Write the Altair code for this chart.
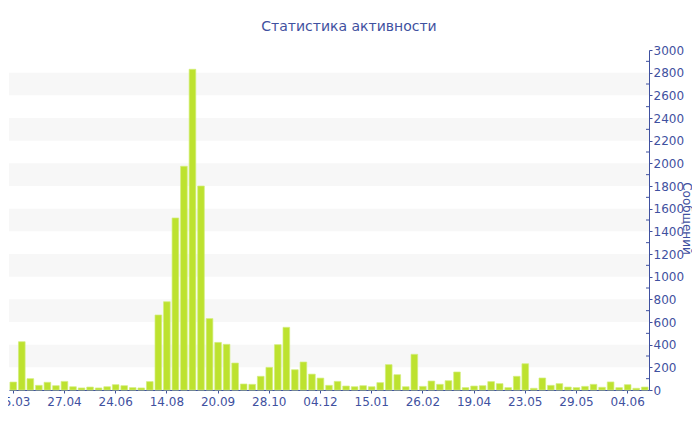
import altair as alt
import pandas as pd

# ---- data ----
tick_labels = ["15.03", "27.04", "24.06", "14.08", "20.09", "28.10", "04.12",
               "15.01", "26.02", "19.04", "23.05", "29.05", "04.06"]
messages = [70, 426, 100, 41, 68, 38, 76, 29, 18, 26, 18, 29, 47, 38, 21, 18, 74,
            662, 779, 1518, 1974, 2830, 1800, 630, 420, 403, 238, 53, 50, 121, 200,
            400, 553, 179, 247, 140, 105,
            41, 76, 35, 29, 38, 29, 65, 224, 135, 29, 315, 32, 79, 50, 82, 159, 21,
            35, 38,
            74, 56, 21, 121, 232, 15, 106, 41, 56, 26, 21, 32, 50, 24, 71, 21, 47,
            15, 26]
band_low = [200, 600, 1000, 1400, 1800, 2200, 2600]
band_high = [400, 800, 1200, 1600, 2000, 2400, 2800]
minor_ticks = [100, 300, 500, 700, 900, 1100, 1300, 1500, 1700, 1900, 2100,
               2300, 2500, 2700, 2900]
y_ticks = list(range(0, 3001, 200))

BLUE = "#3f51a0"
FONT = "DejaVu Sans"

bars_df = pd.DataFrame({"idx": list(range(len(messages))), "val": messages})
bands_df = pd.DataFrame({"lo": band_low, "hi": band_high})
minor_df = pd.DataFrame({"v": minor_ticks})

label_array = "[" + ",".join("'%s'" % t for t in tick_labels) + "]"
label_expr = label_array + "[floor(datum.value / 6)]"

yscale = alt.Scale(domain=[0, 3000], nice=False)

y_axis = alt.Axis(
    orient="right",
    values=y_ticks,
    format="d",
    title="Сообщений",
    titleFont=FONT,
    titleFontSize=12,
    titleFontWeight="normal",
    titleColor=BLUE,
    titleAngle=90,
    titleAlign="center",
    titleBaseline="alphabetic",
    titleX=33,
    titleY=168,
    labelFont=FONT,
    labelFontSize=12,
    labelColor=BLUE,
    domainColor=BLUE,
    tickColor=BLUE,
    tickSize=3,
    labelPadding=1,
    grid=False,
)

x_axis = alt.Axis(
    values=list(range(0, 75, 6)),
    labelExpr=label_expr,
    labelAngle=0,
    title=None,
    labelFont=FONT,
    labelFontSize=12,
    labelColor=BLUE,
    domainColor=BLUE,
    tickColor=BLUE,
    tickSize=3,
    labelPadding=3,
    grid=False,
)

bands = alt.Chart(bands_df).mark_rect(color="#f7f7f7").encode(
    y=alt.Y("lo:Q", scale=yscale, axis=y_axis),
    y2="hi:Q",
    x=alt.value(0),
    x2=alt.value(640),
)

minor = alt.Chart(minor_df).mark_rule(color=BLUE, strokeWidth=1).encode(
    y=alt.Y("v:Q", scale=yscale, axis=y_axis),
    x=alt.value(637),
    x2=alt.value(640),
)

bars = alt.Chart(bars_df).mark_bar(
    color="#bde22f", stroke="#d3ee7c", strokeWidth=0.7
).encode(
    x=alt.X(
        "idx:O",
        scale=alt.Scale(paddingInner=0.22, paddingOuter=0.11),
        axis=x_axis,
    ),
    y=alt.Y("val:Q", scale=yscale, axis=y_axis),
)

chart = alt.layer(bands, minor, bars).properties(
    width=640,
    height=340,
    padding={"left": 1, "top": 42, "right": 43, "bottom": 30},
    autosize=alt.AutoSizeParams(type="none"),
    title=alt.TitleParams(
        "Статистика активности",
        font=FONT,
        fontSize=14,
        fontWeight="normal",
        color=BLUE,
        anchor="middle",
        dx=20,
        offset=10,
    ),
).configure_view(stroke=None)

chart.save("out.html", embed_options={"renderer": "svg", "actions": False})
